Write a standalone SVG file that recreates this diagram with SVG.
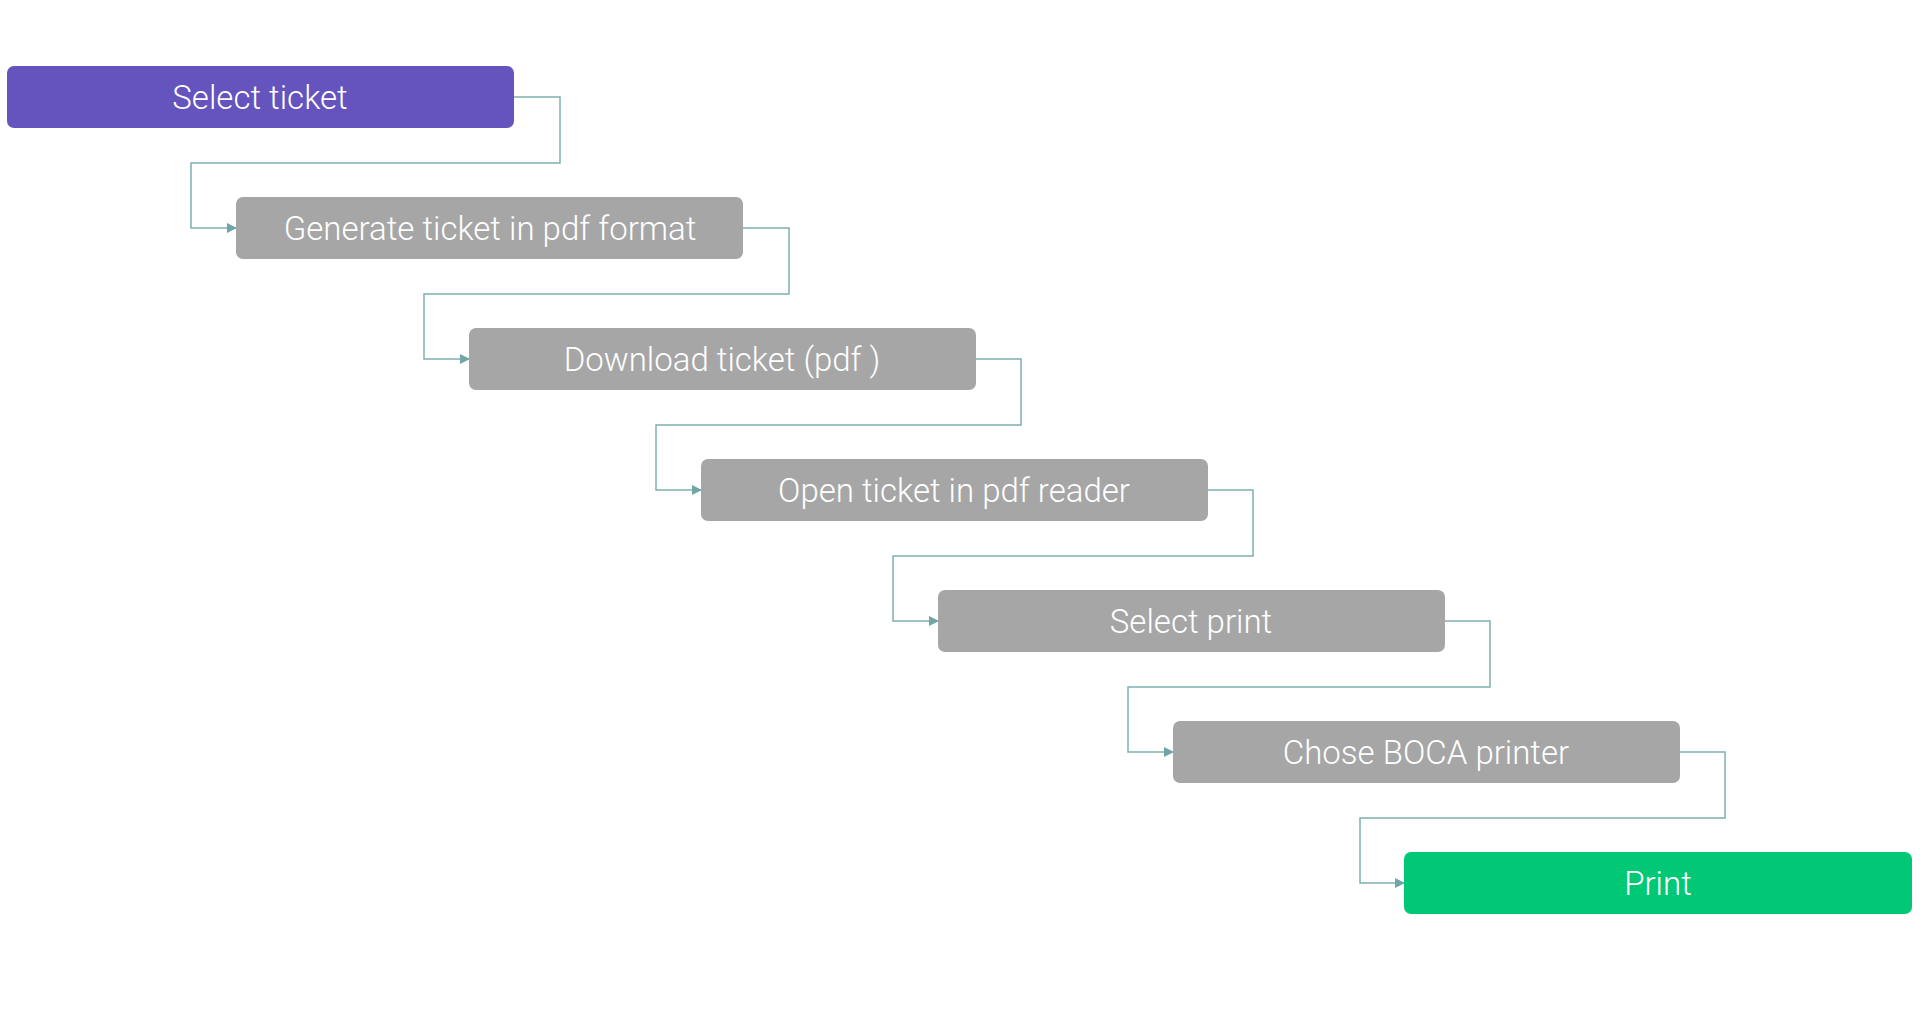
<svg xmlns="http://www.w3.org/2000/svg" width="1920" height="1013" viewBox="0 0 1920 1013">
<style>
.n{fill:#a6a6a6}
.t{font-family:Roboto,"Liberation Sans",sans-serif;font-weight:300;font-size:33px;fill:#fff;text-anchor:middle;dominant-baseline:central}
.c{fill:none;stroke:#7fb0b0;stroke-width:1.5}
</style>
<defs><marker id="a" markerWidth="10" markerHeight="10" refX="9" refY="5" orient="auto" markerUnits="userSpaceOnUse"><path d="M0,0L10,5L0,10z" fill="#6fa5a5"/></marker></defs>
<rect width="1920" height="1013" fill="#fff"/>
<g id="connectors">
<path class="c" marker-end="url(#a)" d="M514,97H560V163H191V228H236"/>
<path class="c" marker-end="url(#a)" d="M743,228H789V294H424V359H469"/>
<path class="c" marker-end="url(#a)" d="M976,359H1021V425H656V490H701"/>
<path class="c" marker-end="url(#a)" d="M1208,490H1253V556H893V621H938"/>
<path class="c" marker-end="url(#a)" d="M1445,621H1490V687H1128V752H1173"/>
<path class="c" marker-end="url(#a)" d="M1680,752H1725V818H1360V883H1404"/>
</g>
<g id="n1"><rect x="7" y="66" width="507" height="62" rx="7" fill="#6553be"/><text class="t" x="260" y="97">Select ticket</text></g>
<g id="n2"><rect class="n" x="236" y="197" width="507" height="62" rx="7"/><text class="t" x="490" y="228">Generate ticket in pdf format</text></g>
<g id="n3"><rect class="n" x="469" y="328" width="507" height="62" rx="7"/><text class="t" x="722" y="359">Download ticket (pdf )</text></g>
<g id="n4"><rect class="n" x="701" y="459" width="507" height="62" rx="7"/><text class="t" x="954" y="490">Open ticket in pdf reader</text></g>
<g id="n5"><rect class="n" x="938" y="590" width="507" height="62" rx="7"/><text class="t" x="1191" y="621">Select print</text></g>
<g id="n6"><rect class="n" x="1173" y="721" width="507" height="62" rx="7"/><text class="t" x="1426" y="752">Chose BOCA printer</text></g>
<g id="n7"><rect x="1404" y="852" width="508" height="62" rx="7" fill="#00c875"/><text class="t" x="1658" y="883">Print</text></g>
</svg>
